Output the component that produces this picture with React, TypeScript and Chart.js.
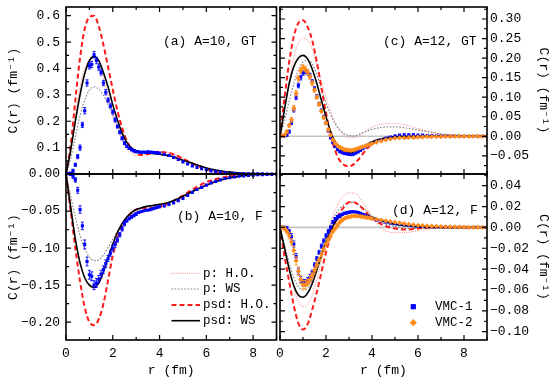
import React, { useEffect, useRef } from 'react';
import { Chart, registerables } from 'chart.js';
Chart.register(...registerables);

const FONT_FAMILY = '"Liberation Mono", "DejaVu Sans Mono", monospace';

// r grid (fm) for model curves
const CURVE_R = [0, 0.2, 0.4, 0.6, 0.8, 1.0, 1.2, 1.4, 1.6, 1.8, 2.0, 2.2, 2.4, 2.6, 2.8, 3.0, 3.2, 3.4, 3.6, 3.8, 4.0, 4.5, 5.0, 5.5, 6.0, 6.5, 7.0, 7.5, 8.0, 8.5, 9.0];
// r grid (fm) for VMC points
const DATA_R = [0.0, 0.1, 0.2, 0.3, 0.4, 0.5, 0.6, 0.7, 0.8, 0.9, 1.0, 1.1, 1.2, 1.3, 1.4, 1.5, 1.6, 1.7, 1.8, 1.9, 2.0, 2.1, 2.2, 2.3, 2.4, 2.5, 2.6, 2.7, 2.8, 2.9, 3.0, 3.1, 3.2, 3.3, 3.4, 3.5, 3.6, 3.7, 3.8, 3.9, 4.0, 4.2, 4.4, 4.6, 4.8, 5.0, 5.2, 5.4, 5.6, 5.8, 6.0, 6.2, 6.4, 6.6, 6.8, 7.0, 7.2, 7.4, 7.6, 7.8, 8.0, 8.2, 8.4, 8.6, 8.8, 9.0];

// (a) A=10, GT
const A_P_HO = [0, 0.1, 0.22, 0.33, 0.4, 0.435, 0.44, 0.415, 0.365, 0.3, 0.235, 0.175, 0.128, 0.095, 0.077, 0.07, 0.07, 0.073, 0.078, 0.082, 0.083, 0.078, 0.06, 0.039, 0.021, 0.009, 0.003, 0.001, 0, 0, 0];
const A_P_WS = [0, 0.06, 0.14, 0.22, 0.28, 0.318, 0.33, 0.322, 0.298, 0.262, 0.222, 0.182, 0.145, 0.118, 0.1, 0.09, 0.084, 0.081, 0.079, 0.077, 0.075, 0.067, 0.054, 0.039, 0.025, 0.015, 0.008, 0.004, 0.002, 0.001, 0];
const A_PSD_HO = [0, 0.11, 0.28, 0.44, 0.55, 0.595, 0.6, 0.56, 0.49, 0.405, 0.32, 0.24, 0.175, 0.125, 0.095, 0.078, 0.072, 0.073, 0.077, 0.082, 0.084, 0.078, 0.058, 0.036, 0.018, 0.007, 0.002, 0, 0, 0, 0];
const A_PSD_WS = [0, 0.09, 0.2, 0.3, 0.38, 0.43, 0.445, 0.43, 0.385, 0.33, 0.262, 0.205, 0.155, 0.12, 0.099, 0.088, 0.083, 0.081, 0.079, 0.077, 0.075, 0.067, 0.052, 0.037, 0.023, 0.013, 0.007, 0.003, 0.0015, 0.0005, 0];
const A_VMC1 = [0.002, 0.002, 0.003, 0.012, 0.035, 0.066, 0.1, 0.186, 0.24, 0.345, 0.41, 0.415, 0.452, 0.43, 0.405, 0.385, 0.345, 0.31, 0.28, 0.258, 0.235, 0.205, 0.18, 0.158, 0.135, 0.117, 0.105, 0.097, 0.092, 0.088, 0.085, 0.084, 0.082, 0.083, 0.082, 0.084, 0.083, 0.082, 0.081, 0.08, 0.079, 0.075, 0.07, 0.063, 0.055, 0.046, 0.038, 0.031, 0.025, 0.02, 0.016, 0.012, 0.009, 0.007, 0.005, 0.004, 0.003, 0.002, 0.0015, 0.001, 0.001, 0.0005, 0.0005, 0, 0, 0];
const A_VMC1_ERR = [0.004, 0.004, 0.004, 0.006, 0.006, 0.008, 0.01, 0.01, 0.012, 0.012, 0.012, 0.012, 0.012, 0.012, 0.012, 0.01, 0.01, 0.01, 0.008, 0.008, 0.008, 0.008, 0.006, 0.006, 0.006, 0.005, 0.005, 0.004, 0.004, 0.004, 0.004];

// (b) A=10, F
const B_P_HO = [0, -0.043, -0.086, -0.119, -0.14, -0.151, -0.154, -0.148, -0.133, -0.113, -0.094, -0.077, -0.065, -0.057, -0.051, -0.048, -0.047, -0.047, -0.047, -0.047, -0.046, -0.041, -0.032, -0.022, -0.013, -0.007, -0.003, -0.001, 0, 0, 0];
const B_P_WS = [0, -0.03, -0.058, -0.083, -0.101, -0.112, -0.117, -0.116, -0.109, -0.099, -0.088, -0.077, -0.068, -0.06, -0.054, -0.05, -0.047, -0.045, -0.044, -0.043, -0.042, -0.038, -0.031, -0.023, -0.016, -0.01, -0.006, -0.003, -0.0015, -0.0005, 0];
const B_PSD_HO = [0, -0.05, -0.1, -0.145, -0.18, -0.2, -0.204, -0.196, -0.175, -0.143, -0.11, -0.087, -0.07, -0.059, -0.052, -0.048, -0.046, -0.046, -0.046, -0.045, -0.044, -0.038, -0.029, -0.019, -0.011, -0.006, -0.003, -0.001, 0, 0, 0];
const B_PSD_WS = [0, -0.045, -0.088, -0.12, -0.14, -0.15, -0.153, -0.147, -0.132, -0.113, -0.095, -0.079, -0.067, -0.058, -0.052, -0.048, -0.046, -0.044, -0.043, -0.042, -0.041, -0.037, -0.03, -0.022, -0.015, -0.009, -0.005, -0.0025, -0.001, -0.0005, 0];
const B_VMC1 = [0.001, 0.001, 0, -0.003, -0.008, -0.022, -0.048, -0.07, -0.095, -0.118, -0.136, -0.138, -0.15, -0.147, -0.142, -0.135, -0.129, -0.121, -0.114, -0.107, -0.1, -0.095, -0.089, -0.082, -0.074, -0.067, -0.063, -0.06, -0.058, -0.056, -0.054, -0.052, -0.051, -0.05, -0.049, -0.049, -0.048, -0.047, -0.046, -0.045, -0.044, -0.043, -0.041, -0.039, -0.036, -0.033, -0.029, -0.025, -0.021, -0.018, -0.015, -0.012, -0.01, -0.008, -0.006, -0.005, -0.004, -0.003, -0.0025, -0.002, -0.0015, -0.001, -0.001, -0.0005, -0.0005, 0];
const B_VMC1_ERR = [0.002, 0.002, 0.002, 0.003, 0.003, 0.004, 0.005, 0.005, 0.006, 0.006, 0.006, 0.006, 0.006, 0.006, 0.005, 0.005, 0.005, 0.005, 0.004, 0.004, 0.004, 0.004, 0.003, 0.003, 0.003, 0.003, 0.002, 0.002, 0.002, 0.002, 0.002];

// (c) A=12, GT
const C_P_HO = [0, 0.07, 0.14, 0.2, 0.238, 0.251, 0.245, 0.222, 0.185, 0.14, 0.1, 0.065, 0.035, 0.015, 0.002, -0.004, -0.004, 0, 0.008, 0.016, 0.023, 0.032, 0.033, 0.028, 0.02, 0.012, 0.006, 0.003, 0.001, 0, 0];
const C_P_WS = [0, 0.04, 0.09, 0.135, 0.17, 0.19, 0.195, 0.185, 0.158, 0.12, 0.085, 0.055, 0.032, 0.016, 0.006, 0.002, 0.001, 0.004, 0.009, 0.014, 0.018, 0.023, 0.024, 0.021, 0.016, 0.011, 0.006, 0.003, 0.0015, 0.0005, 0];
const C_PSD_HO = [0, 0.1, 0.19, 0.255, 0.29, 0.297, 0.28, 0.245, 0.19, 0.125, 0.06, 0.005, -0.037, -0.062, -0.074, -0.077, -0.072, -0.06, -0.045, -0.031, -0.02, -0.007, -0.003, -0.004, -0.003, -0.001, 0, 0, 0, 0, 0];
const C_PSD_WS = [0, 0.07, 0.135, 0.178, 0.2, 0.207, 0.198, 0.172, 0.135, 0.092, 0.05, 0.012, -0.015, -0.031, -0.039, -0.042, -0.04, -0.034, -0.027, -0.02, -0.014, -0.005, -0.001, 0, 0, 0, 0, 0, 0, 0, 0];
const C_VMC1 = [0, 0, 0.001, 0.003, 0.012, 0.035, 0.068, 0.1, 0.13, 0.15, 0.162, 0.166, 0.163, 0.155, 0.14, 0.122, 0.102, 0.083, 0.066, 0.05, 0.034, 0.014, -0.004, -0.016, -0.026, -0.034, -0.039, -0.042, -0.044, -0.045, -0.046, -0.047, -0.046, -0.043, -0.04, -0.036, -0.032, -0.028, -0.024, -0.021, -0.018, -0.013, -0.009, -0.005, -0.002, 0.001, 0.003, 0.004, 0.004, 0.004, 0.003, 0.003, 0.002, 0.002, 0.001, 0.001, 0.001, 0.0005, 0.0005, 0.0005, 0, 0, 0, 0, 0, 0];
const C_VMC1_ERR = [0.002, 0.002, 0.002, 0.003, 0.004, 0.005, 0.006, 0.006, 0.006, 0.006, 0.006, 0.006, 0.006, 0.006, 0.005, 0.005, 0.005, 0.004, 0.004, 0.004, 0.004, 0.003, 0.003, 0.003, 0.003, 0.003, 0.003, 0.002, 0.002, 0.002, 0.002];
const C_VMC2 = [0.001, 0.001, 0.003, 0.012, 0.028, 0.042, 0.072, 0.11, 0.148, 0.168, 0.176, 0.172, 0.164, 0.152, 0.136, 0.118, 0.1, 0.082, 0.064, 0.048, 0.034, 0.017, 0.003, -0.009, -0.018, -0.024, -0.028, -0.031, -0.034, -0.035, -0.036, -0.036, -0.035, -0.033, -0.031, -0.029, -0.027, -0.025, -0.023, -0.021, -0.019, -0.015, -0.012, -0.009, -0.007, -0.005, -0.004, -0.004, -0.003, -0.003, -0.002, -0.002, -0.001, -0.001, -0.001, -0.001, -0.0005, -0.0005, -0.0005, 0, 0, 0, 0, 0, 0, 0];
const C_VMC2_ERR = [0.002, 0.002, 0.003, 0.004, 0.005, 0.006, 0.007, 0.007, 0.007, 0.007, 0.007, 0.007, 0.006, 0.006, 0.006, 0.005, 0.005, 0.005, 0.004, 0.004, 0.004, 0.004, 0.003, 0.003, 0.003, 0.003, 0.003, 0.003, 0.003, 0.003, 0.003];

// (d) A=12, F
const D_P_HO = [0, -0.02, -0.04, -0.058, -0.071, -0.076, -0.074, -0.065, -0.05, -0.032, -0.013, 0.004, 0.017, 0.026, 0.031, 0.033, 0.033, 0.03, 0.024, 0.017, 0.01, -0.002, -0.005, -0.005, -0.003, -0.0015, -0.0005, 0, 0, 0, 0];
const D_P_WS = [0, -0.017, -0.034, -0.048, -0.057, -0.06, -0.058, -0.05, -0.038, -0.024, -0.01, 0.003, 0.012, 0.018, 0.022, 0.024, 0.024, 0.022, 0.019, 0.015, 0.011, 0.004, 0.001, -0.001, -0.001, 0, 0, 0, 0, 0, 0];
const D_PSD_HO = [0, -0.028, -0.052, -0.075, -0.092, -0.098, -0.093, -0.079, -0.062, -0.043, -0.024, -0.008, 0.005, 0.014, 0.02, 0.024, 0.024, 0.022, 0.018, 0.013, 0.009, 0.002, -0.001, -0.002, -0.001, 0, 0, 0, 0, 0, 0];
const D_PSD_WS = [0, -0.02, -0.04, -0.056, -0.065, -0.067, -0.063, -0.054, -0.041, -0.027, -0.014, -0.003, 0.005, 0.01, 0.0125, 0.014, 0.0145, 0.0143, 0.013, 0.0115, 0.0098, 0.006, 0.003, 0.0015, 0.0005, 0, 0, 0, 0, 0, 0];
const D_VMC1 = [0, 0, 0, -0.001, -0.004, -0.009, -0.016, -0.028, -0.042, -0.05, -0.053, -0.053, -0.051, -0.048, -0.043, -0.036, -0.03, -0.024, -0.018, -0.013, -0.008, -0.004, 0, 0.005, 0.008, 0.01, 0.011, 0.0125, 0.0135, 0.014, 0.0145, 0.015, 0.015, 0.0148, 0.0143, 0.0135, 0.0125, 0.0115, 0.0105, 0.0095, 0.0085, 0.007, 0.006, 0.005, 0.0042, 0.0035, 0.003, 0.0025, 0.002, 0.0015, 0.001, 0.001, 0.0008, 0.0006, 0.0005, 0.0004, 0.0003, 0.0002, 0.0002, 0.0001, 0, 0, 0, 0, 0, 0];
const D_VMC1_ERR = [0.001, 0.001, 0.001, 0.002, 0.002, 0.003, 0.003, 0.003, 0.003, 0.003, 0.003, 0.003, 0.003, 0.003, 0.002, 0.002, 0.002, 0.002, 0.002, 0.002, 0.002, 0.002, 0.0015, 0.0015, 0.0015, 0.0015, 0.0015, 0.001, 0.001, 0.001, 0.001];
const D_VMC2 = [0, 0, -0.001, -0.004, -0.008, -0.014, -0.022, -0.032, -0.042, -0.05, -0.055, -0.055, -0.053, -0.05, -0.046, -0.041, -0.036, -0.031, -0.026, -0.021, -0.016, -0.012, -0.008, -0.004, -0.001, 0.002, 0.005, 0.007, 0.0085, 0.0095, 0.01, 0.0105, 0.011, 0.011, 0.0108, 0.0105, 0.01, 0.0097, 0.0093, 0.009, 0.0085, 0.0078, 0.007, 0.0063, 0.0056, 0.005, 0.0043, 0.0037, 0.003, 0.0025, 0.002, 0.0017, 0.0014, 0.0012, 0.001, 0.0008, 0.0006, 0.0005, 0.0004, 0.0003, 0.0002, 0.0001, 0, 0, 0, 0];
const D_VMC2_ERR = [0.001, 0.001, 0.002, 0.002, 0.003, 0.003, 0.004, 0.004, 0.004, 0.004, 0.004, 0.004, 0.003, 0.003, 0.003, 0.003, 0.003, 0.002, 0.002, 0.002, 0.002, 0.002, 0.002, 0.0015, 0.0015, 0.0015, 0.0015, 0.0015, 0.001, 0.001, 0.001];

const CURVE_LABELS = ['p: H.O.', 'p: WS', 'psd: H.O.', 'psd: WS'];
const VMC_LABELS = ['VMC-1', 'VMC-2'];
const X_TICK_LABELS = ['0', '2', '4', '6', '8'];
const Y_TITLE = 'C(r) (fm⁻¹)';
const X_TITLE = 'r (fm)';

const CURVE_STYLES = [
  { color: '#ff8a8a', width: 1, dash: [1, 1.2] },
  { color: '#808080', width: 1.1, dash: [1.6, 1.6] },
  { color: '#ff1a1a', width: 2, dash: [5, 3] },
  { color: '#000000', width: 1.6, dash: [] as number[] },
];
const VMC_STYLES = [
  { color: '#0000ff', style: 'rect', radius: 2.2 },
  { color: '#ff8c1a', style: 'rectRot', radius: 2.6 },
];

type Panel = {
  id: string;
  label: string;
  labelPos: [number, number];
  yMin: number; yMax: number; yStep: number; yMinor: number; decimals: number; hideZeroLabel: boolean;
  yPos: 'left' | 'right';
  showX: boolean;
  pad: { left: number; top: number; right: number; bottom: number };
  curves: number[][];
  vmc: { y: number[]; err: number[]; kind: number }[];
  zeroLine: boolean;
  legend: 'curves' | 'vmc' | null;
};

const PANELS: Panel[] = [
  {
    id: 'a', label: '(a) A=10, GT', labelPos: [163, 42],
    yMin: 0, yMax: 0.633, yStep: 0.1, yMinor: 0.05, decimals: 1, hideZeroLabel: true,
    yPos: 'left', showX: false, pad: { left: 6, top: 7, right: 277.5, bottom: 213 },
    curves: [A_P_HO, A_P_WS, A_PSD_HO, A_PSD_WS],
    vmc: [{ y: A_VMC1, err: A_VMC1_ERR, kind: 0 }],
    zeroLine: false, legend: null,
  },
  {
    id: 'b', label: '(b) A=10, F', labelPos: [177, 217],
    yMin: -0.224, yMax: 0, yStep: 0.05, yMinor: 0.025, decimals: 2, hideZeroLabel: false,
    yPos: 'left', showX: true, pad: { left: 6, top: 174, right: 277.5, bottom: 0 },
    curves: [B_P_HO, B_P_WS, B_PSD_HO, B_PSD_WS],
    vmc: [{ y: B_VMC1, err: B_VMC1_ERR, kind: 0 }],
    zeroLine: false, legend: 'curves',
  },
  {
    id: 'c', label: '(c) A=12, GT', labelPos: [383, 42],
    yMin: -0.0965, yMax: 0.3307, yStep: 0.05, yMinor: 0.025, decimals: 2, hideZeroLabel: false,
    yPos: 'right', showX: false, pad: { left: 280, top: 7, right: 0, bottom: 213 },
    curves: [C_P_HO, C_P_WS, C_PSD_HO, C_PSD_WS],
    vmc: [{ y: C_VMC1, err: C_VMC1_ERR, kind: 0 }, { y: C_VMC2, err: C_VMC2_ERR, kind: 1 }],
    zeroLine: true, legend: null,
  },
  {
    id: 'd', label: '(d) A=12, F', labelPos: [392, 211],
    yMin: -0.108, yMax: 0.0512, yStep: 0.02, yMinor: 0.01, decimals: 2, hideZeroLabel: false,
    yPos: 'right', showX: true, pad: { left: 280, top: 174, right: 0, bottom: 0 },
    curves: [D_P_HO, D_P_WS, D_PSD_HO, D_PSD_WS],
    vmc: [{ y: D_VMC1, err: D_VMC1_ERR, kind: 0 }, { y: D_VMC2, err: D_VMC2_ERR, kind: 1 }],
    zeroLine: true, legend: 'vmc',
  },
];

function drawMarker(ctx: CanvasRenderingContext2D, kind: number, x: number, y: number) {
  const s = VMC_STYLES[kind];
  ctx.fillStyle = s.color;
  ctx.beginPath();
  if (kind === 0) {
    ctx.rect(x - 2.6, y - 2.6, 5.2, 5.2);
  } else {
    ctx.moveTo(x, y - 3.6); ctx.lineTo(x + 3.6, y); ctx.lineTo(x, y + 3.6); ctx.lineTo(x - 3.6, y); ctx.closePath();
  }
  ctx.fill();
}

function makePlugin(p: Panel) {
  return {
    id: 'panelDeco' + p.id,
    beforeDatasetsDraw(chart: any) {
      if (!p.zeroLine) return;
      const { ctx, chartArea: a, scales } = chart;
      const y = scales.y.getPixelForValue(0);
      ctx.save();
      ctx.strokeStyle = '#c4c4c4';
      ctx.lineWidth = 1.6;
      ctx.beginPath(); ctx.moveTo(a.left, y); ctx.lineTo(a.right, y); ctx.stroke();
      ctx.restore();
    },
    beforeDatasetDraw(chart: any, args: any) {
      const ds: any = chart.data.datasets[args.index];
      if (!ds.errors) return;
      const meta = chart.getDatasetMeta(args.index);
      const { ctx, chartArea: a } = chart;
      const ys = chart.scales.y;
      ctx.save();
      ctx.beginPath(); ctx.rect(a.left, a.top, a.right - a.left, a.bottom - a.top); ctx.clip();
      ctx.strokeStyle = ds.errColor;
      ctx.lineWidth = 0.9;
      ds.data.forEach((pt: any, i: number) => {
        const e = ds.errors[i];
        if (!e) return;
        const el = meta.data[i];
        if (!el) return;
        const x = el.x;
        const y1 = ys.getPixelForValue(pt.y - e);
        const y2 = ys.getPixelForValue(pt.y + e);
        ctx.beginPath();
        ctx.moveTo(x, y1); ctx.lineTo(x, y2);
        ctx.moveTo(x - 1.5, y1); ctx.lineTo(x + 1.5, y1);
        ctx.moveTo(x - 1.5, y2); ctx.lineTo(x + 1.5, y2);
        ctx.stroke();
      });
      ctx.restore();
    },
    afterDatasetsDraw(chart: any) {
      const { ctx, chartArea: a, scales } = chart;
      const xs = scales.x, ys = scales.y;
      ctx.save();
      ctx.strokeStyle = '#000';
      ctx.lineWidth = 1.2;
      ctx.beginPath();
      for (let k = 0; k <= 9; k++) {
        const x = xs.getPixelForValue(k);
        const len = k % 2 === 0 ? 5 : 3;
        ctx.moveTo(x, a.top); ctx.lineTo(x, a.top + len);
        ctx.moveTo(x, a.bottom); ctx.lineTo(x, a.bottom - len);
      }
      const start = Math.ceil(p.yMin / p.yMinor - 1e-6);
      const end = Math.floor(p.yMax / p.yMinor + 1e-6);
      for (let k = start; k <= end; k++) {
        const v = k * p.yMinor;
        const r = v / p.yStep;
        const major = Math.abs(r - Math.round(r)) < 1e-6;
        const len = major ? 5 : 3;
        const y = ys.getPixelForValue(v);
        ctx.moveTo(a.left, y); ctx.lineTo(a.left + len, y);
        ctx.moveTo(a.right, y); ctx.lineTo(a.right - len, y);
      }
      ctx.stroke();
      ctx.lineWidth = 1.6;
      ctx.strokeRect(a.left, a.top, a.right - a.left, a.bottom - a.top);
      ctx.restore();
    },
    afterDraw(chart: any) {
      const { ctx } = chart;
      ctx.save();
      ctx.fillStyle = '#000';
      ctx.textBaseline = 'middle';
      ctx.textAlign = 'left';
      ctx.font = `13px ${FONT_FAMILY}`;
      ctx.fillText(p.label, p.labelPos[0], p.labelPos[1]);
      if (p.legend === 'curves') {
        const rows = [273.3, 289, 305, 320.7];
        ctx.font = `12.5px ${FONT_FAMILY}`;
        CURVE_LABELS.forEach((lab, i) => {
          const st = CURVE_STYLES[i];
          ctx.save();
          ctx.strokeStyle = st.color;
          ctx.lineWidth = st.width;
          ctx.setLineDash(st.dash);
          ctx.beginPath(); ctx.moveTo(171.5, rows[i]); ctx.lineTo(200, rows[i]); ctx.stroke();
          ctx.restore();
          ctx.fillText(lab, 203, rows[i]);
        });
      }
      if (p.legend === 'vmc') {
        const rows = [306.7, 322.7];
        ctx.font = `12.5px ${FONT_FAMILY}`;
        VMC_LABELS.forEach((lab, i) => {
          drawMarker(ctx, i, 413.3, rows[i]);
          ctx.fillStyle = '#000';
          ctx.fillText(lab, 435, rows[i]);
        });
      }
      ctx.restore();
    },
  };
}

function fmt(v: number, decimals: number, hideZero: boolean) {
  if (Math.abs(v) < 1e-9) return hideZero ? '' : (0).toFixed(decimals);
  const s = Math.abs(v).toFixed(decimals);
  return v < 0 ? '−' + s : s;
}

function makeConfig(p: Panel): any {
  const datasets: any[] = [];
  [...p.vmc].reverse().forEach((s) => {
    const st = VMC_STYLES[s.kind];
    datasets.push({
      label: VMC_LABELS[s.kind],
      data: DATA_R.map((r, i) => ({ x: r, y: s.y[i] })),
      showLine: false,
      pointStyle: st.style,
      pointRadius: st.radius,
      pointBorderWidth: 0,
      pointBackgroundColor: st.color,
      borderColor: st.color,
      errors: s.err,
      errColor: st.color,
    });
  });
  [3, 2, 1, 0].forEach((ci) => {
    const st = CURVE_STYLES[ci];
    datasets.push({
      label: CURVE_LABELS[ci],
      data: CURVE_R.map((r, i) => ({ x: r, y: p.curves[ci][i] })),
      borderColor: st.color,
      borderWidth: st.width,
      borderDash: st.dash,
      pointRadius: 0,
      cubicInterpolationMode: 'monotone',
      fill: false,
    });
  });
  const font = { family: FONT_FAMILY, size: 13 };
  return {
    type: 'line',
    data: { datasets },
    options: {
      responsive: false,
      animation: false,
      events: [],
      layout: { padding: p.pad },
      plugins: { legend: { display: false }, tooltip: { enabled: false }, title: { display: false } },
      scales: {
        x: {
          type: 'linear', min: 0, max: 9, display: p.showX, position: 'bottom',
          grid: { display: false, drawTicks: false }, border: { display: false },
          ticks: {
            stepSize: 2, includeBounds: false, font, color: '#000', padding: 6, maxRotation: 0, autoSkip: false,
            callback: (v: number) => {
              const idx = Math.round(v / 2);
              return Math.abs(v - idx * 2) < 1e-6 ? X_TICK_LABELS[idx] ?? '' : '';
            },
          },
          title: { display: p.showX, text: X_TITLE, font, color: '#000', padding: { top: 0, bottom: 9 } },
          afterFit: (s: any) => { s.height = p.showX ? 47 : 0; s.paddingLeft = 0; s.paddingRight = 0; },
        },
        y: {
          type: 'linear', min: p.yMin, max: p.yMax, position: p.yPos,
          grid: { display: false, drawTicks: false }, border: { display: false },
          ticks: {
            stepSize: p.yStep, includeBounds: false, font, color: '#000', autoSkip: false,
            padding: p.yPos === 'left' ? 6 : 3,
            callback: (v: number) => fmt(v, p.decimals, p.hideZeroLabel),
          },
          title: { display: true, text: Y_TITLE, font, color: '#000', padding: { top: p.yPos === 'left' ? 0 : 3, bottom: 0 } },
          afterFit: (s: any) => { s.width = p.yPos === 'left' ? 60 : 67; s.paddingTop = 0; s.paddingBottom = 0; },
        },
      },
    },
    plugins: [makePlugin(p)],
  };
}

export default function App() {
  const refs = useRef<(HTMLCanvasElement | null)[]>([]);
  useEffect(() => {
    const charts = PANELS.map((p, i) => new Chart(refs.current[i] as HTMLCanvasElement, makeConfig(p)));
    return () => charts.forEach((c) => c.destroy());
  }, []);
  return (
    <div style={{ position: 'fixed', left: 0, top: 0, width: 554, height: 387, background: '#fff' }}>
      {PANELS.map((p, i) => (
        <canvas
          key={p.id}
          ref={(el) => { refs.current[i] = el; }}
          width={554}
          height={387}
          style={{ position: 'absolute', left: 0, top: 0, width: 554, height: 387 }}
        />
      ))}
    </div>
  );
}
